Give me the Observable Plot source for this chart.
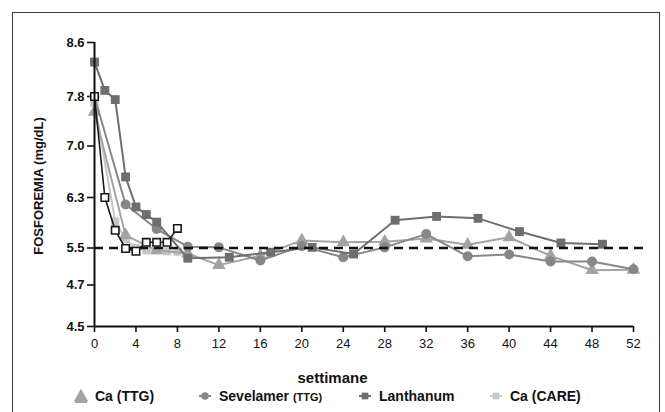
<!DOCTYPE html>
<html>
<head>
<meta charset="utf-8">
<script src="https://cdn.jsdelivr.net/npm/d3@7"></script>
<script src="https://cdn.jsdelivr.net/npm/@observablehq/plot@0.6"></script>
<style>
  html, body { margin: 0; padding: 0; background: #fff; }
  #wrap { position: relative; width: 665px; height: 412px; overflow: hidden; background: #fff; font-family: "Liberation Sans", Arial, sans-serif; }
  #frame { position: absolute; left: 12px; top: 12px; width: 648px; height: 430px; border: 1.5px solid #3a3a3a; box-sizing: border-box; }
  #chart { position: absolute; left: 0; top: 0; }
  #ylabel { position: absolute; left: 38px; top: 186px; transform: translate(-50%, -50%) rotate(-90deg); font-weight: bold; font-size: 13px; color: #111; white-space: nowrap; }
  #xlabel { position: absolute; left: 0; width: 665px; top: 369px; text-align: center; font-weight: bold; font-size: 15px; color: #111; }
  .leg { position: absolute; top: 387px; font-weight: bold; font-size: 14px; color: #111; white-space: nowrap; display: flex; align-items: center; }
  .leg svg { margin-right: 5px; }
  .small { font-size: 11px; }
  g[aria-label^="x-axis"] path, g[aria-label^="y-axis"] path, .tick line { stroke-width: 1.6; }
</style>
</head>
<body>
<div id="wrap">
  <div id="frame"></div>
  <div id="chart"></div>
  <div id="ylabel">FOSFOREMIA (mg/dL)</div>
  <div id="xlabel">settimane</div>
  <div id="legend"></div>
</div>
<script>
// ---- data ----
const seriesNames = ["Ca (TTG)", "Sevelamer (TTG)", "Lanthanum", "Ca (CARE)"];

const weeksCaTTG = [0, 3, 6, 9, 12, 16, 20, 24, 28, 32, 36, 40, 44, 48, 52];
const valuesCaTTG = [7.55, 5.70, 5.45, 5.38, 5.13, 5.33, 5.62, 5.59, 5.60, 5.65, 5.55, 5.67, 5.33, 5.02, 5.03];

const weeksSevelamer = [0, 3, 6, 9, 12, 16, 20, 24, 28, 32, 36, 40, 44, 48, 52];
const valuesSevelamer = [7.80, 6.19, 5.80, 5.52, 5.51, 5.23, 5.53, 5.30, 5.51, 5.72, 5.32, 5.36, 5.21, 5.21, 5.04];

const weeksLanthanum = [0, 1, 2, 3, 4, 5, 6, 9, 13, 17, 21, 25, 29, 33, 37, 41, 45, 49];
const valuesLanthanum = [8.31, 7.89, 7.75, 6.58, 6.15, 6.03, 5.91, 5.28, 5.30, 5.41, 5.51, 5.37, 5.94, 6.00, 5.97, 5.76, 5.58, 5.56];

const weeksCaCARE = [0, 2, 3, 4, 5, 6, 7, 8];
const valuesCaCARE = [7.70, 5.92, 5.64, 5.50, 5.45, 5.45, 5.43, 5.42];

const weeksOther = [0, 1, 2, 3, 4, 5, 6, 7, 8];
const valuesOther = [7.80, 6.30, 5.78, 5.49, 5.43, 5.59, 5.59, 5.59, 5.81];

const target = 5.5;
// tick labels of the (non-uniform) y axis and their relative spacing on the original axis
const yTicks = [4.5, 4.7, 5.5, 6.3, 7.0, 7.8, 8.6];
const yTickSpacing = [0, 41.5, 78.5, 129, 180.5, 230, 284];
const xTicks = [0, 4, 8, 12, 16, 20, 24, 28, 32, 36, 40, 44, 48, 52];

// piecewise mapping of value -> axis position units (the original axis is not linear)
const yPos = d3.scaleLinear().domain(yTicks).range(yTickSpacing);

// ---- build tables ----
const toRows = (weeks, values) => weeks.map((w, i) => ({week: w, value: values[i], pos: yPos(values[i])}));
const caTTG = toRows(weeksCaTTG, valuesCaTTG);
const sevelamer = toRows(weeksSevelamer, valuesSevelamer);
const lanthanum = toRows(weeksLanthanum, valuesLanthanum);
const caCARE = toRows(weeksCaCARE, valuesCaCARE);
const other = toRows(weeksOther, valuesOther);

const colors = {"Ca (TTG)": "#a3a3a3", "Sevelamer (TTG)": "#878787", "Lanthanum": "#6e6e6e", "Ca (CARE)": "#c6c6c6"};
const fmt = d3.format(".1f");

const chart = Plot.plot({
  width: 665,
  height: 360,
  marginLeft: 94,
  marginRight: 32,
  marginTop: 42,
  marginBottom: 34,
  style: {fontFamily: "'Liberation Sans', Arial, sans-serif", fontSize: "13px", color: "#111", background: "transparent"},
  x: {domain: [0, 52], ticks: xTicks, tickSize: 6, tickPadding: 6, label: null},
  y: {domain: [0, 284], ticks: yTickSpacing, tickFormat: (u) => fmt(yPos.invert(u)), tickSize: 7, tickPadding: 3, label: null},
  marks: [
    Plot.line(caCARE, {x: "week", y: "pos", stroke: colors["Ca (CARE)"], strokeWidth: 2}),
    Plot.dot(caCARE, {x: "week", y: "pos", symbol: "square", r: 4.6, fill: colors["Ca (CARE)"]}),
    Plot.line(caTTG, {x: "week", y: "pos", stroke: colors["Ca (TTG)"], strokeWidth: 2}),
    Plot.dot(caTTG, {x: "week", y: "pos", symbol: "triangle", r: 5, fill: colors["Ca (TTG)"]}),
    Plot.line(sevelamer, {x: "week", y: "pos", stroke: colors["Sevelamer (TTG)"], strokeWidth: 2}),
    Plot.dot(sevelamer, {x: "week", y: "pos", symbol: "circle", r: 5, fill: colors["Sevelamer (TTG)"]}),
    Plot.line(lanthanum, {x: "week", y: "pos", stroke: colors["Lanthanum"], strokeWidth: 2}),
    Plot.dot(lanthanum, {x: "week", y: "pos", symbol: "square", r: 5, fill: colors["Lanthanum"]}),
    Plot.ruleY([yPos(target)], {x1: 0, x2: 53.5, stroke: "#111", strokeWidth: 2.5, strokeDasharray: "9,6"}),
    Plot.line(other, {x: "week", y: "pos", stroke: "#1a1a1a", strokeWidth: 1.6}),
    Plot.dot(other, {x: "week", y: "pos", symbol: "square", r: 4.2, fill: "#fff", stroke: "#1a1a1a", strokeWidth: 1.6}),
    Plot.ruleX([0], {y1: yPos(4.5), y2: yPos(8.6), stroke: "#111", strokeWidth: 2}),
    Plot.ruleY([yPos(4.5)], {x1: 0, x2: 52, stroke: "#111", strokeWidth: 2})
  ]
});
// bold y tick labels, as in the reference
d3.select(chart).selectAll('[aria-label^="y-axis"] text, [aria-label^="y-axis"] g text')
  .attr("font-weight", "bold").style("font-weight", "bold");
d3.select(chart).selectAll('[aria-label^="y-axis"]').attr("font-weight", "bold");
document.getElementById("chart").appendChild(chart);

// ---- legend ----
const legendItems = [
  {name: "Ca (TTG)", sym: "triangle", left: 72},
  {name: "Sevelamer", small: "(TTG)", sym: "circle", left: 196},
  {name: "Lanthanum", sym: "square", left: 356},
  {name: "Ca (CARE)", sym: "square", left: 487}
];
const legend = document.getElementById("legend");
const symPath = {triangle: d3.symbol(d3.symbolTriangle, 90)(), circle: d3.symbol(d3.symbolCircle, 45)(), square: d3.symbol(d3.symbolSquare, 45)()};
legendItems.forEach((it, i) => {
  const key = seriesNames[i];
  const div = document.createElement("div");
  div.className = "leg";
  div.style.left = it.left + "px";
  const c = colors[key];
  const big = it.sym === "triangle";
  div.innerHTML = `<svg width="18" height="18" viewBox="-9 -9 18 18">` +
    `<line x1="-6" x2="6" y1="${big ? 6 : 0}" y2="${big ? 6 : 0}" stroke="${c}" stroke-width="2"/>` +
    `<path d="${symPath[it.sym]}" transform="${big ? "translate(0,1)" : ""}" fill="${c}"/></svg>` +
    `<span>${it.name}${it.small ? ' <span class="small">' + it.small + '</span>' : ''}</span>`;
  legend.appendChild(div);
});
</script>
</body>
</html>
